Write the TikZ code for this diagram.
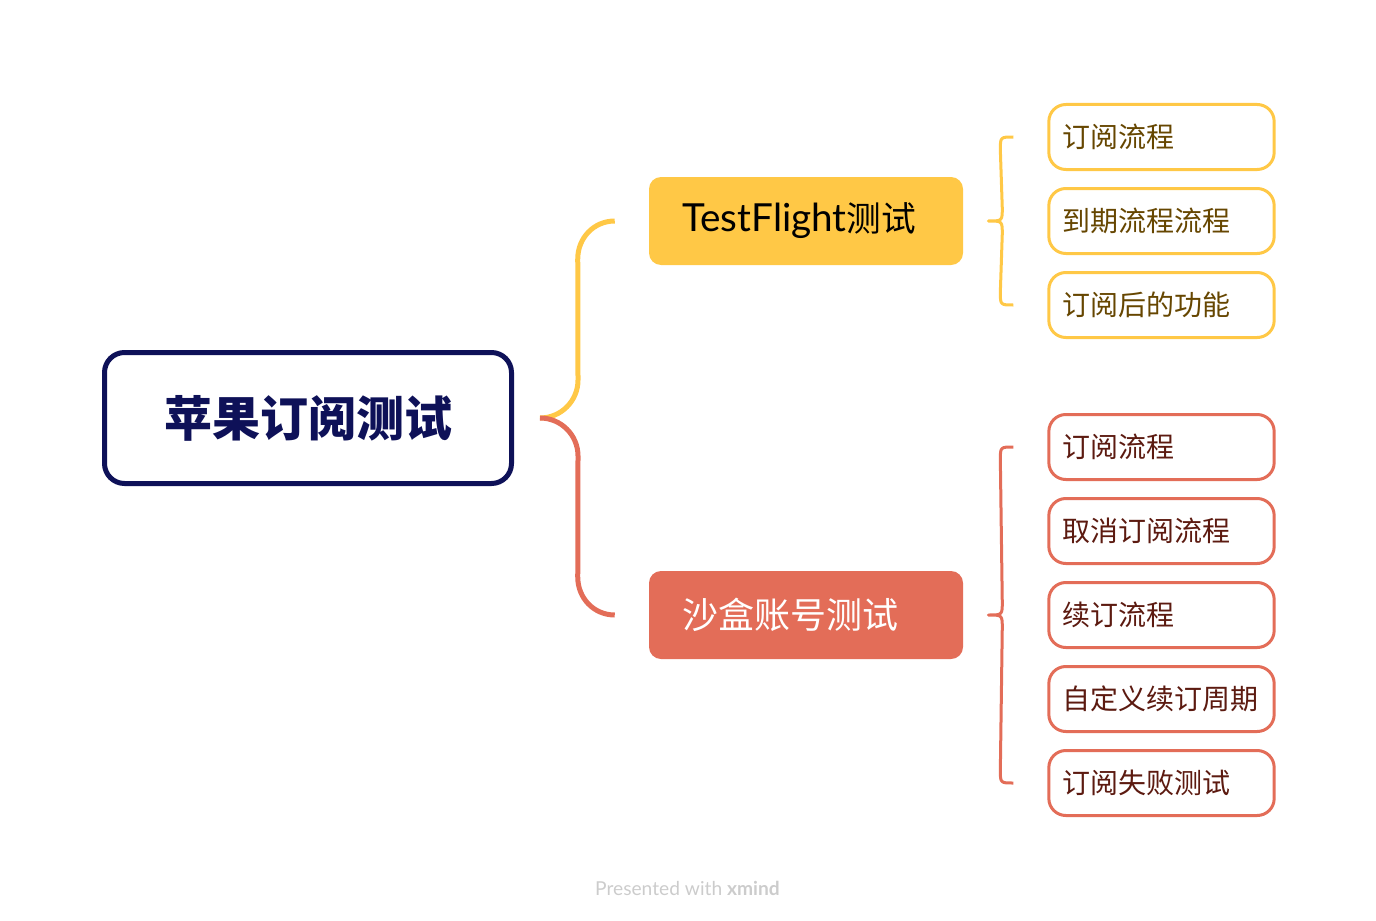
\documentclass[tikz,border=0pt]{standalone}
\usepackage{fontspec}
\setmainfont{Lato}
\newfontfamily\cjk{Noto Sans CJK SC}
\usepackage{tikz}
\usetikzlibrary{calc}
\definecolor{navy}{HTML}{0E1158}
\definecolor{sunny}{HTML}{FFC846}
\definecolor{coral}{HTML}{E36D58}
\definecolor{olivetext}{HTML}{664600}
\definecolor{rusttext}{HTML}{5C1A10}

\begin{document}
\begin{tikzpicture}[x=0.75pt,y=-0.75pt,
    rootbox/.style={draw=navy, line width=3.75pt, rounded corners=15pt,
        minimum width=305.25pt, minimum height=98.25pt, inner sep=0pt,
        text=navy, font=\cjk\bfseries\fontsize{36}{40}\selectfont},
    branchbox/.style={rounded corners=9pt, minimum height=66pt,
        inner xsep=25pt, text width=185.5pt, align=left},
    leafbox/.style={draw, fill=white, line width=2.25pt, rounded corners=12.75pt,
        minimum height=48.75pt, inner xsep=10.5pt, text width=148pt, align=left,
        font=\cjk\fontsize{21}{24}\selectfont},
    trunk/.style={line width=3.75pt, line cap=butt},
    twig/.style={line width=2.25pt, line join=round}]
    \useasboundingbox (0,0) rectangle (1376,920);
    %Main topic
    \node[rootbox] (root) at (308,418) {苹果订阅测试};
    %Branches
    \node[branchbox, fill=sunny, font=\fontsize{29}{32}\selectfont] (tf) at (806,221)
        {TestFlight{\cjk\fontsize{26}{30}\selectfont 测试}};
    \node[branchbox, fill=coral, text=white, font=\cjk\fontsize{27}{30}\selectfont] (sb) at (806,615)
        {沙盒账号测试};
    %Leaves
    \node[leafbox, draw=sunny, text=olivetext] (tf1) at (1161.5,137) {订阅流程};
    \node[leafbox, draw=sunny, text=olivetext] (tf2) at (1161.5,221) {到期流程流程};
    \node[leafbox, draw=sunny, text=olivetext] (tf3) at (1161.5,305) {订阅后的功能};
    \node[leafbox, draw=coral, text=rusttext] (sb1) at (1161.5,447) {订阅流程};
    \node[leafbox, draw=coral, text=rusttext] (sb2) at (1161.5,531) {取消订阅流程};
    \node[leafbox, draw=coral, text=rusttext] (sb3) at (1161.5,615) {续订流程};
    \node[leafbox, draw=coral, text=rusttext] (sb4) at (1161.5,699) {自定义续订周期};
    \node[leafbox, draw=coral, text=rusttext] (sb5) at (1161.5,783) {订阅失败测试};
    %Trunk connectors
    \draw[trunk, sunny] ($(root.east)+(26,0)$) .. controls ($(root.east)+(47,0)$) and ($(root.east)+(64,-17)$) .. ($(root.east)+(64,-38)$)
        -- ($(tf.west)+(-71,38)$) .. controls ($(tf.west)+(-71,17)$) and ($(tf.west)+(-55,0)$) .. ($(tf.west)+(-34,0)$);
    \draw[trunk, coral] ($(root.east)+(26,0)$) .. controls ($(root.east)+(47,0)$) and ($(root.east)+(64,17)$) .. ($(root.east)+(64,38)$)
        -- ($(sb.west)+(-71,-38)$) .. controls ($(sb.west)+(-71,-17)$) and ($(sb.west)+(-55,0)$) .. ($(sb.west)+(-34,0)$);
    %Braces to leaves
    \draw[twig, sunny] ($(tf1.west)+(-34,0)$) .. controls ($(tf1.west)+(-47,0)$) .. ($(tf1.west)+(-47,13)$)
        -- ($(tf.east)+(39,-13)$) .. controls ($(tf.east)+(39,0)$) .. ($(tf.east)+(25,0)$)
        .. controls ($(tf.east)+(39,0)$) .. ($(tf.east)+(39,13)$)
        -- ($(tf3.west)+(-47,-13)$) .. controls ($(tf3.west)+(-47,0)$) .. ($(tf3.west)+(-34,0)$);
    \draw[twig, coral] ($(sb1.west)+(-34,0)$) .. controls ($(sb1.west)+(-47,0)$) .. ($(sb1.west)+(-47,13)$)
        -- ($(sb.east)+(39,-13)$) .. controls ($(sb.east)+(39,0)$) .. ($(sb.east)+(25,0)$)
        .. controls ($(sb.east)+(39,0)$) .. ($(sb.east)+(39,13)$)
        -- ($(sb5.west)+(-47,-13)$) .. controls ($(sb5.west)+(-47,0)$) .. ($(sb5.west)+(-34,0)$);
    %Footer
    \node[text=black!20, font=\fontsize{14.4}{16}\selectfont] (credit) at (687.5,888)
        {Presented with \textbf{xmind}};
\end{tikzpicture}
\end{document}
